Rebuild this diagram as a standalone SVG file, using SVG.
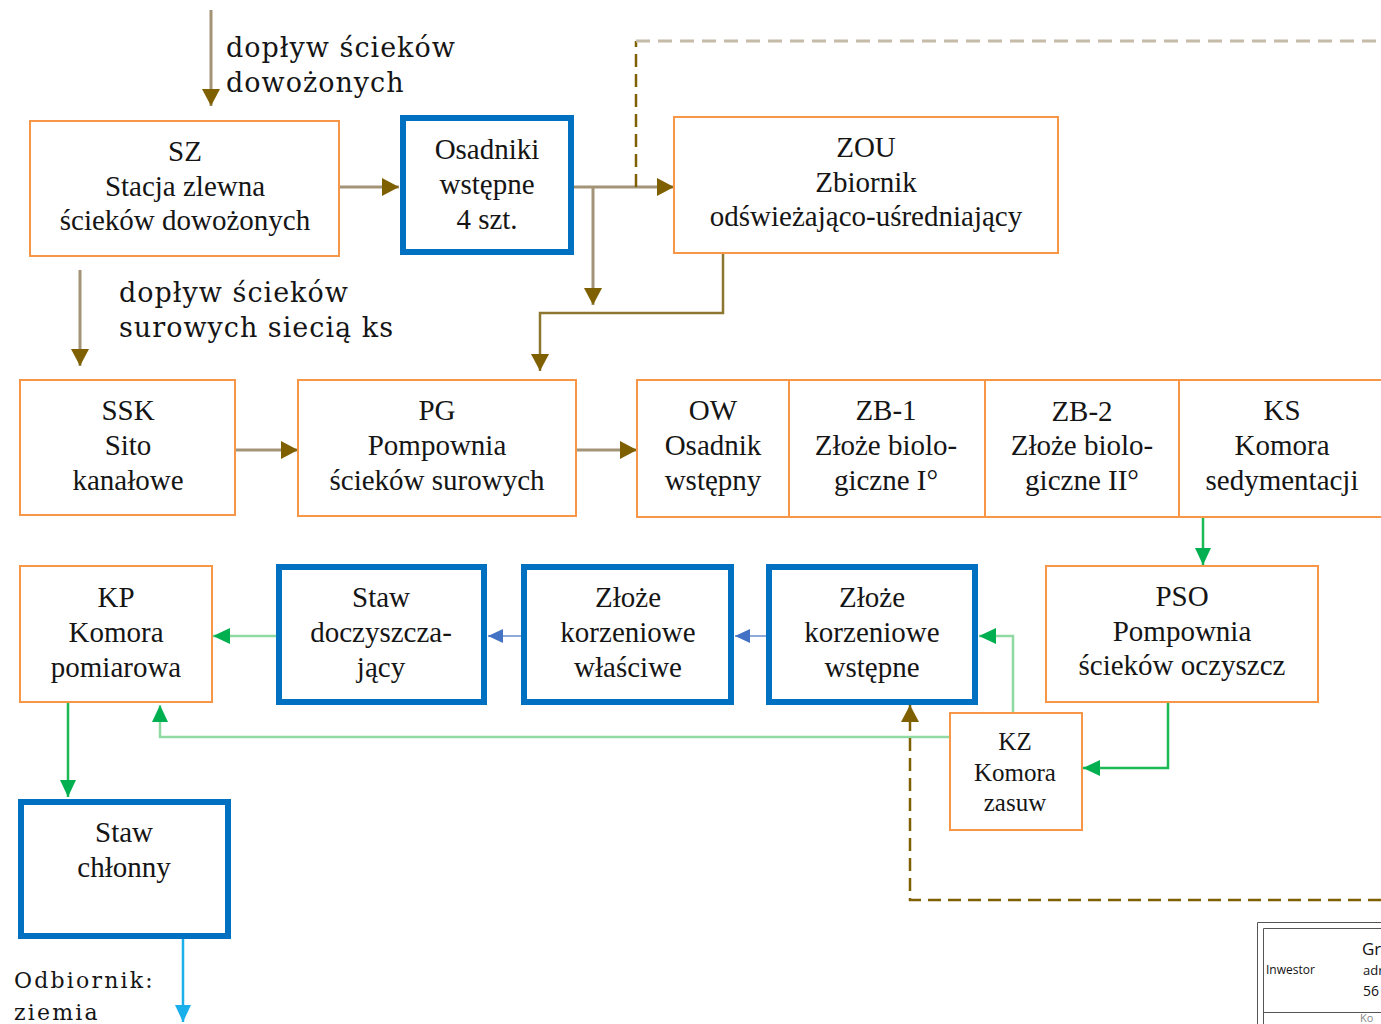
<svg xmlns="http://www.w3.org/2000/svg" width="1381" height="1024" viewBox="0 0 1381 1024">
<style>
.o{fill:#fff;stroke:#f79646;stroke-width:2}
.b{fill:#fff;stroke:#0070c0;stroke-width:6}
.t{font-family:"Liberation Serif","Times New Roman",serif;font-size:29px;fill:#151515;text-anchor:middle}
.ts{font-family:"Liberation Serif","Times New Roman",serif;font-size:25px;fill:#151515;text-anchor:middle}
.l{font-family:"DejaVu Serif",serif;font-size:27px;letter-spacing:1px;fill:#151515}
.c{fill:none}
.tan{stroke:#a39478;stroke-width:3}
.ol{stroke:#8c7630;stroke-width:2.5}
.gr{stroke:#1db954;stroke-width:2.5}
.lg{stroke:#8fd9a3;stroke-width:2.5}
.bl{stroke:#8eaadb;stroke-width:2}
.sky{stroke:#1aaeea;stroke-width:2.5}
.dsh{stroke:#7f6000;stroke-width:2.5;stroke-dasharray:13 7}
.dshl{stroke:#c6bba8;stroke-width:3;stroke-dasharray:14 8}
.tb{font-family:"Open Sans","Liberation Sans",sans-serif;fill:#111}
</style>
<defs>
<marker id="aO" markerUnits="userSpaceOnUse" markerWidth="18" markerHeight="18" refX="17" refY="9" orient="auto"><path d="M0,0 L17,9 L0,18 z" fill="#7f6000"/></marker>
<marker id="aG" markerUnits="userSpaceOnUse" markerWidth="18" markerHeight="18" refX="17" refY="9" orient="auto"><path d="M0,1 L17,9 L0,17 z" fill="#00b050"/></marker>
<marker id="aB" markerUnits="userSpaceOnUse" markerWidth="16" markerHeight="16" refX="15" refY="8" orient="auto"><path d="M0,1 L15,8 L0,15 z" fill="#4472c4"/></marker>
<marker id="aS" markerUnits="userSpaceOnUse" markerWidth="18" markerHeight="18" refX="17" refY="9" orient="auto"><path d="M0,1 L17,9 L0,17 z" fill="#1aaeea"/></marker>
</defs>

<g id="connectors">
<path class="c tan" d="M211,10 V106" marker-end="url(#aO)"/>
<path class="c tan" d="M339,187 H399" marker-end="url(#aO)"/>
<path class="c tan" d="M573,187 H674" marker-end="url(#aO)"/>
<path class="c tan" d="M593,187 V305" marker-end="url(#aO)"/>
<path class="c dsh" d="M636,187 V41"/>
<path class="c dshl" d="M636,41 H1381"/>
<path class="c tan" d="M80,270 V366" marker-end="url(#aO)"/>
<path class="c ol" d="M723,253 V313 H540 V371" marker-end="url(#aO)"/>
<path class="c tan" d="M235,450 H298" marker-end="url(#aO)"/>
<path class="c tan" d="M576,450 H637" marker-end="url(#aO)"/>
<path class="c gr" d="M1203,517 V565" marker-end="url(#aG)"/>
<path class="c gr" d="M1168,702 V768 H1083" marker-end="url(#aG)"/>
<path class="c lg" d="M1013,713 V636 H979" marker-end="url(#aG)"/>
<path class="c bl" d="M766,636 H735" marker-end="url(#aB)"/>
<path class="c bl" d="M521,636 H488" marker-end="url(#aB)"/>
<path class="c lg" d="M276,636 H213" marker-end="url(#aG)"/>
<path class="c lg" d="M950,737 H160 V705" marker-end="url(#aG)"/>
<path class="c gr" d="M68,702 V797" marker-end="url(#aG)"/>
<path class="c sky" d="M183,938 V1022" marker-end="url(#aS)"/>
<path class="c dsh" d="M1381,900 H910 V705" marker-end="url(#aO)"/>
</g>

<g id="SZ"><rect class="o" x="30" y="121" width="309" height="135"/>
<text class="t" x="185" y="161">SZ</text><text class="t" x="185" y="196">Stacja zlewna</text><text class="t" x="185" y="230">ścieków dowożonych</text></g>

<g id="OS"><rect class="b" x="403" y="118" width="168" height="134"/>
<text class="t" x="487" y="159">Osadniki</text><text class="t" x="487" y="194">wstępne</text><text class="t" x="487" y="229">4 szt.</text></g>

<g id="ZOU"><rect class="o" x="674" y="117" width="384" height="136"/>
<text class="t" x="866" y="157">ZOU</text><text class="t" x="866" y="192">Zbiornik</text><text class="t" x="866" y="226">odświeżająco-uśredniający</text></g>

<g id="SSK"><rect class="o" x="20" y="380" width="215" height="135"/>
<text class="t" x="128" y="420">SSK</text><text class="t" x="128" y="455">Sito</text><text class="t" x="128" y="490">kanałowe</text></g>

<g id="PG"><rect class="o" x="298" y="380" width="278" height="136"/>
<text class="t" x="437" y="420">PG</text><text class="t" x="437" y="455">Pompownia</text><text class="t" x="437" y="490">ścieków surowych</text></g>

<g id="OW"><rect class="o" x="637" y="380" width="152" height="137"/>
<text class="t" x="713" y="420">OW</text><text class="t" x="713" y="455">Osadnik</text><text class="t" x="713" y="490">wstępny</text></g>

<g id="ZB1"><rect class="o" x="789" y="380" width="196" height="137"/>
<text class="t" x="886" y="420">ZB-1</text><text class="t" x="886" y="455">Złoże biolo-</text><text class="t" x="886" y="490">giczne I°</text></g>

<g id="ZB2"><rect class="o" x="985" y="380" width="194" height="137"/>
<text class="t" x="1082" y="421">ZB-2</text><text class="t" x="1082" y="455">Złoże biolo-</text><text class="t" x="1082" y="490">giczne II°</text></g>

<g id="KS"><rect class="o" x="1179" y="380" width="220" height="137"/>
<text class="t" x="1282" y="420">KS</text><text class="t" x="1282" y="455">Komora</text><text class="t" x="1282" y="490">sedymentacji</text></g>

<g id="PSO"><rect class="o" x="1046" y="566" width="272" height="136"/>
<text class="t" x="1182" y="606">PSO</text><text class="t" x="1182" y="641">Pompownia</text><text class="t" x="1182" y="675">ścieków oczyszcz</text></g>

<g id="KP"><rect class="o" x="20" y="566" width="192" height="136"/>
<text class="t" x="116" y="607">KP</text><text class="t" x="116" y="642">Komora</text><text class="t" x="116" y="677">pomiarowa</text></g>

<g id="SD"><rect class="b" x="279" y="567" width="205" height="135"/>
<text class="t" x="381" y="607">Staw</text><text class="t" x="381" y="642">doczyszcza-</text><text class="t" x="381" y="677">jący</text></g>

<g id="ZKW"><rect class="b" x="524" y="567" width="207" height="135"/>
<text class="t" x="628" y="607">Złoże</text><text class="t" x="628" y="642">korzeniowe</text><text class="t" x="628" y="677">właściwe</text></g>

<g id="ZKS"><rect class="b" x="769" y="567" width="206" height="135"/>
<text class="t" x="872" y="607">Złoże</text><text class="t" x="872" y="642">korzeniowe</text><text class="t" x="872" y="677">wstępne</text></g>

<g id="KZ"><rect class="o" x="950" y="713" width="132" height="117"/>
<text class="ts" x="1015" y="750">KZ</text><text class="ts" x="1015" y="781">Komora</text><text class="ts" x="1015" y="811">zasuw</text></g>

<g id="SC"><rect class="b" x="21" y="802" width="207" height="134"/>
<text class="t" x="124" y="842">Staw</text><text class="t" x="124" y="877">chłonny</text></g>

<g id="labels">
<text class="l" x="226" y="57">dopływ ścieków</text>
<text class="l" x="226" y="92">dowożonych</text>
<text class="l" x="119" y="302">dopływ ścieków</text>
<text class="l" x="119" y="337">surowych siecią ks</text>
<text class="l" x="14" y="988" style="font-size:22px;letter-spacing:2.2px">Odbiornik:</text>
<text class="l" x="14" y="1020" style="font-size:22px;letter-spacing:2.2px">ziemia</text>
</g>

<g id="table" fill="none" stroke="#555" stroke-width="1">
<path d="M1257.5,1024 V922.5 H1381"/>
<path d="M1263.5,1024 V928.5 H1381"/>
<path d="M1263.5,1012.5 H1381"/>
<text class="tb" x="1266" y="974" font-size="12" stroke="none">Inwestor</text>
<text class="tb" x="1362" y="955" font-size="17" stroke="none">Gr</text>
<text class="tb" x="1363" y="975" font-size="13" stroke="none">adr</text>
<text class="tb" x="1363" y="996" font-size="14" stroke="none">56</text>
<text class="tb" x="1360" y="1022" font-size="11" stroke="none" style="fill:#888">Ko</text>
</g>
</svg>
